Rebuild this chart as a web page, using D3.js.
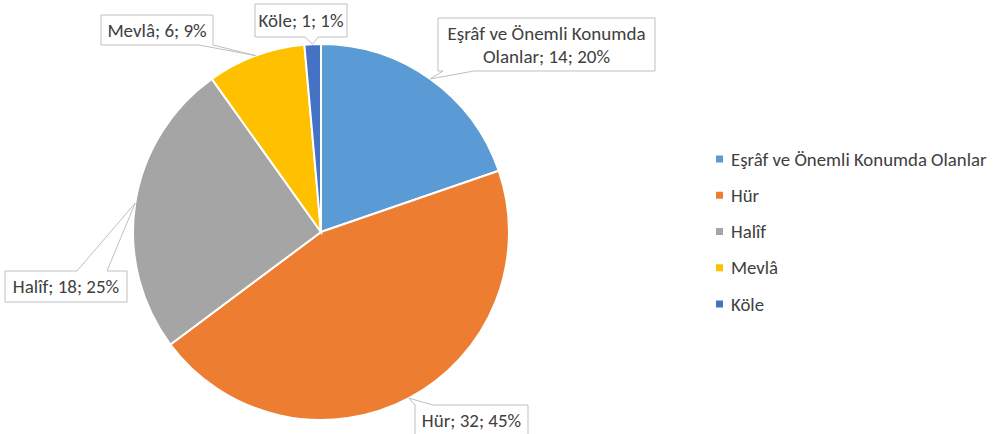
<!DOCTYPE html>
<html>
<head>
<meta charset="utf-8">
<script src="https://cdn.jsdelivr.net/npm/d3@7"></script>
<style>
  html, body { margin: 0; padding: 0; background: #fff; }
  svg text { font-family: Calibri, Carlito, Lato, sans-serif; fill: #404040; }
</style>
</head>
<body>
<svg id="chart" width="999" height="434"></svg>
<script>
// data
const categories = ["Eşrâf ve Önemli Konumda Olanlar", "Hür", "Halîf", "Mevlâ", "Köle"];
const counts = [14, 32, 18, 6, 1];
const percentLabels = ["20%", "45%", "25%", "9%", "1%"];
const colors = ["#5b9bd5", "#ed7d31", "#a5a5a5", "#ffc000", "#4472c4"];

// callout layout (box + which side the pointer leaves from)
const callouts = [
    { box: [438, 18, 217, 53], side: "bottom", base: [443, 474] },
    { box: [415, 405, 113, 30], side: "top", base: [415, 433] },
    { box: [5, 271, 122, 31], side: "top", base: [77, 107] },
    { box: [101, 15, 112, 30], side: "bottom", base: [199, 213] },
    { box: [255, 4, 92, 33], side: "bottom", base: [305, 318] }
];

const cx = 321, cy = 232, radius = 188;
const labelFont = 19;
const legendFont = 18.8;

const svg = d3.select("#chart");
const data = categories.map((c, i) => ({ name: c, value: counts[i], pct: percentLabels[i], color: colors[i] }));

const pie = d3.pie().value(d => d.value).sort(null);
const arc = d3.arc().innerRadius(0).outerRadius(radius);
const edge = d3.arc().innerRadius(radius).outerRadius(radius);

const g = svg.append("g").attr("transform", `translate(${cx},${cy})`);
const arcs = pie(data);

g.selectAll("path.slice")
    .data(arcs)
    .join("path")
    .attr("class", "slice")
    .attr("d", arc)
    .attr("fill", d => d.data.color)
    .attr("stroke", "#fff")
    .attr("stroke-width", 2);

//  callout shape: rectangle with a wedge inserted on one side
function calloutPath(c, tip) {
    const [x, y, w, h] = c.box;
    const [a, b] = c.base;
    const p = d3.path();
    p.moveTo(x, y);
    if (c.side === "top") { p.lineTo(a, y); p.lineTo(tip[0], tip[1]); p.lineTo(b, y); }
    p.lineTo(x + w, y);
    if (c.side === "right") { p.lineTo(x + w, a); p.lineTo(tip[0], tip[1]); p.lineTo(x + w, b); }
    p.lineTo(x + w, y + h);
    if (c.side === "bottom") { p.lineTo(b, y + h); p.lineTo(tip[0], tip[1]); p.lineTo(a, y + h); }
    p.lineTo(x, y + h);
    if (c.side === "left") { p.lineTo(x, b); p.lineTo(tip[0], tip[1]); p.lineTo(x, a); }
    p.closePath();
    return p.toString();
}

const labels = svg.append("g");
arcs.forEach((d, i) => {
    const c = callouts[i];
    const e = edge.centroid(d);
    const tip = [cx + e[0], cy + e[1]];
    labels.append("path")
        .attr("d", calloutPath(c, tip))
        .attr("fill", "#fff")
        .attr("stroke", "#bfbfbf")
        .attr("stroke-width", 1);

    const [x, y, w, h] = c.box;
    const t = labels.append("text")
        .attr("text-anchor", "middle")
        .style("font-size", labelFont + "px");
    const full = `${d.data.name}; ${d.data.value}; ${d.data.pct}`;

    //  wrap words to fit inside the box
    const words = full.split(" ");
    let lines = [], line = [];
    const probe = t.append("tspan");
    words.forEach(wd => {
        line.push(wd);
        probe.text(line.join(" "));
        if (probe.node().getComputedTextLength() > w - 2 && line.length > 1) {
            line.pop();
            lines.push(line.join(" "));
            line = [wd];
        }
    });
    lines.push(line.join(" "));
    probe.remove();

    const lh = 23;
    const y0 = y + h / 2 - (lines.length - 1) * lh / 2;
    lines.forEach((ln, k) => {
        t.append("tspan")
            .attr("x", x + w / 2)
            .attr("y", y0 + k * lh)
            .attr("dy", "0.35em")
            .text(ln);
    });
});

//  legend
const legendY = d3.scalePoint().domain(categories).range([159, 304]);
const legend = svg.append("g");
legend.selectAll("rect")
    .data(data)
    .join("rect")
    .attr("x", 716)
    .attr("y", d => legendY(d.name) - 3.5)
    .attr("width", 7)
    .attr("height", 7)
    .attr("fill", d => d.color);
legend.selectAll("text")
    .data(data)
    .join("text")
    .attr("x", 731)
    .attr("y", d => legendY(d.name))
    .attr("dy", "0.35em")
    .style("font-size", legendFont + "px")
    .text(d => d.name);
</script>
</body>
</html>
